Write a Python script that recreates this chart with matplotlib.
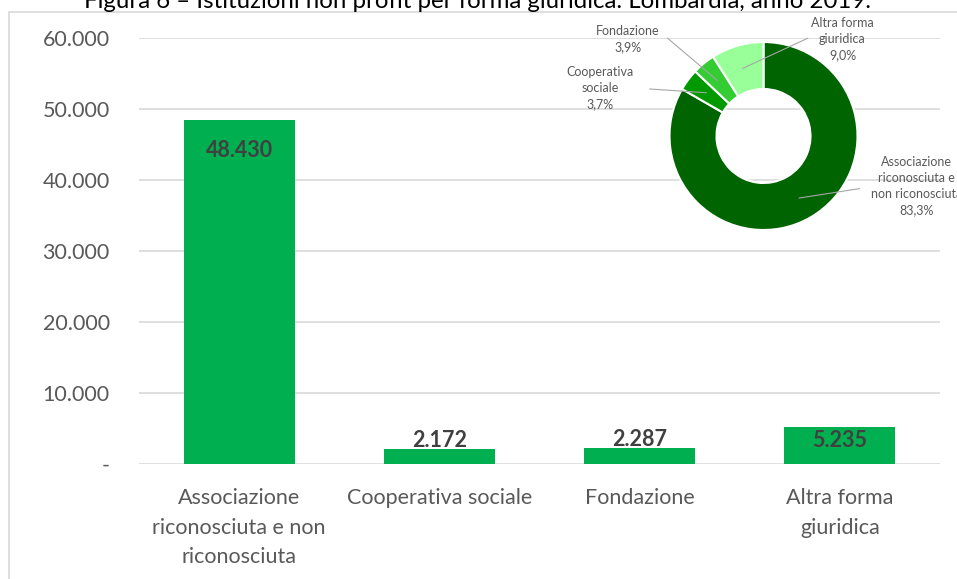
import matplotlib.pyplot as plt
from matplotlib.patches import Rectangle

plt.rcParams['font.family'] = ['Lato', 'DejaVu Sans']

# data
categories = ["Associazione\nriconosciuta e non\nriconosciuta", "Cooperativa sociale",
              "Fondazione", "Altra forma\ngiuridica"]
pie_labels = ["Associazione\nriconosciuta e\nnon riconosciuta", "Cooperativa\nsociale",
              "Fondazione", "Altra forma\ngiuridica"]
values = [48430, 2172, 2287, 5235]
yticks = [0, 10000, 20000, 30000, 40000, 50000, 60000]
ytick_labels = ["-", "10.000", "20.000", "30.000", "40.000", "50.000", "60.000"]
title = "Figura 6 \u2013 Istituzioni non profit per forma giuridica. Lombardia, anno 2019."

bar_color = "#00B050"
pie_colors = ["#006400", "#009900", "#33CC33", "#99FF99"]
W, H = 957, 579

fig = plt.figure(figsize=(W / 100, H / 100), dpi=100)

# chart frame (cut by image edge on right/bottom)
fig.patches.append(Rectangle((9 / W, -0.1), 1.2, 1 - 12 / H + 0.1, transform=fig.transFigure,
                             fill=False, edgecolor="#D9D9D9", linewidth=1.2))
fig.text(478 / W, 1 - 8 / H, title, ha="center", va="baseline", fontsize=17.3, color="black")

ax = fig.add_axes([139 / W, 1 - 464 / H, (940 - 139) / W, (464 - 38) / H])
x = list(range(len(values)))
ax.bar(x, values, width=0.555, color=bar_color, zorder=2)
ax.set_xlim(-0.5, len(values) - 0.5)
ax.set_ylim(0, 60000)
ax.set_yticks(yticks)
ax.set_yticklabels(ytick_labels)
ax.set_xticks(x)
ax.set_xticklabels(categories, linespacing=1.62)
ax.yaxis.grid(True, color="#D9D9D9", linewidth=1.2, zorder=0)
for s in ax.spines.values():
    s.set_visible(False)
ax.tick_params(axis="y", length=0, pad=21, labelsize=15.5, labelcolor="#595959")
ax.tick_params(axis="x", length=0, pad=17, labelsize=15.5, labelcolor="#595959")

# value labels, vertical offset in pixels from bar top
label_offsets = [-30, 8, 8, -14]
for i, (v, off) in enumerate(zip(values, label_offsets)):
    txt = f"{v:,}".replace(",", ".")
    ax.annotate(txt, (i, v), xytext=(0, off * 0.72), textcoords="offset points",
                ha="center", va="center", fontsize=15.5, fontweight="bold",
                color="#404040", zorder=3)

# donut inset
cx, cy, r = 763.5, 136, 94
pax = fig.add_axes([(cx - r) / W, 1 - (cy + r) / H, 2 * r / W, 2 * r / H])
pax.pie(values, colors=pie_colors, startangle=90, counterclock=False, radius=1,
        wedgeprops=dict(width=0.5, edgecolor="white", linewidth=1.5))
pax.set_xlim(-1, 1)
pax.set_ylim(-1, 1)
pax.set_aspect("equal")
pax.axis("off")

total = sum(values)
# label position (center) and leader line endpoints, in radius units
label_pos = [(1.63, -0.53), (-1.74, 0.51), (-1.44, 1.03), (0.84, 1.03)]
leaders = [((1.02, -0.56), (0.38, -0.66)),
           ((-1.21, 0.50), (-0.61, 0.46)),
           ((-1.02, 1.04), (-0.49, 0.59)),
           ((0.47, 1.04), (-0.22, 0.72))]
for lab, v, (lx, ly), (p0, p1) in zip(pie_labels, values, label_pos, leaders):
    pct = f"{100 * v / total:.1f}%".replace(".", ",")
    pax.text(lx, ly, f"{lab}\n{pct}", ha="center", va="center", fontsize=9,
             color="#595959", linespacing=1.4, clip_on=False)
    pax.plot([p0[0], p1[0]], [p0[1], p1[1]], color="#A6A6A6", linewidth=0.8, clip_on=False)

fig.savefig("out.png", dpi=100)
